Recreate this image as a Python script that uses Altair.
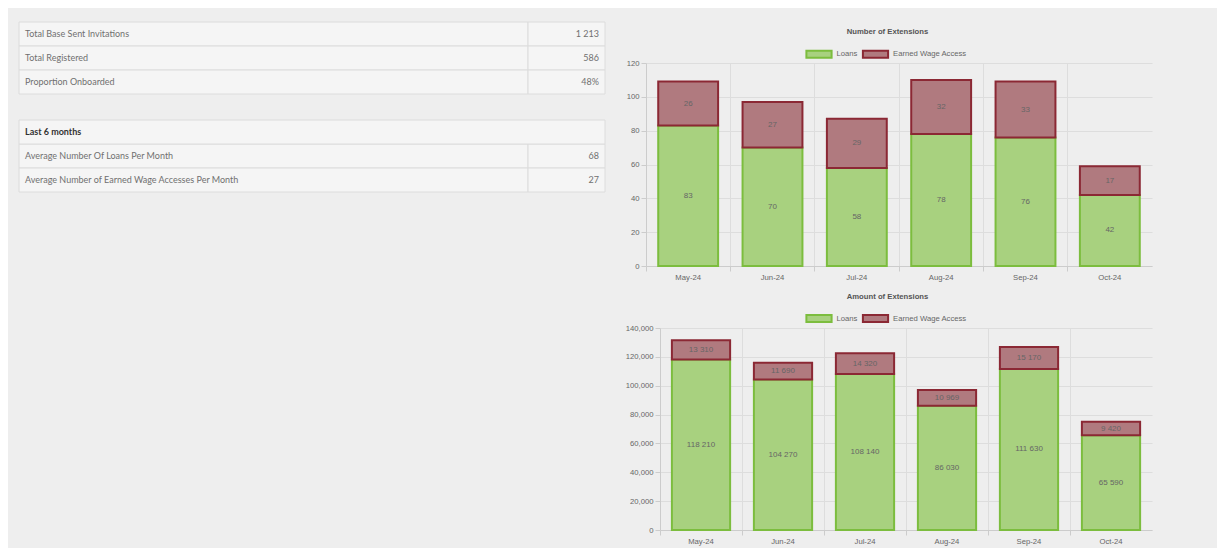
import altair as alt
import pandas as pd

# ---------------- data ----------------
months = ["May-24", "Jun-24", "Jul-24", "Aug-24", "Sep-24", "Oct-24"]
series_names = ["Loans", "Earned Wage Access"]

loans_count = [83, 70, 58, 78, 76, 42]
ewa_count = [26, 27, 29, 32, 33, 17]

loans_amount = [118210, 104270, 108140, 86030, 111630, 65590]
ewa_amount = [13310, 11690, 14320, 10969, 15170, 9420]

count_ticks = [0, 20, 40, 60, 80, 100, 120]
amount_ticks = [0, 20000, 40000, 60000, 80000, 100000, 120000, 140000]

t1_labels = ["Total Base Sent Invitations", "Total Registered", "Proportion Onboarded"]
t1_values = ["1 213", "586", "48%"]

t2_header = "Last 6 months"
t2_labels = ["Average Number Of Loans Per Month",
             "Average Number of Earned Wage Accesses Per Month"]
t2_values = ["68", "27"]

# ---------------- styles ----------------
fill_colors = ["#a8d17f", "#b07a7f"]
stroke_colors = ["#7cbd3e", "#8b2834"]
BG = "#eeeeee"
CELL = "#f5f5f5"
BORDER = "#dcdcdc"
CFONT = "Liberation Sans"
TFONT = "Lato"
FS = 7.7
TFS = 9
PLOT_W = 492


def long_df(loans, ewa):
    rows = []
    for i, m in enumerate(months):
        for j, (s, v) in enumerate(zip(series_names, [loans[i], ewa[i]])):
            rows.append({"month": m, "series": s, "value": v, "order": j,
                         "label": f"{v:,}".replace(",", " ")})
    return pd.DataFrame(rows)


def bar_chart(df, title, y_ticks, y_fmt, height, left_ext, legend_x, legend_y):
    base = alt.Chart(df).transform_stack(
        stack="value", groupby=["month"], as_=["v0", "v1"],
        sort=[alt.SortField("order", order="ascending")]
    ).transform_calculate(mid="(datum.v0 + datum.v1) / 2")

    x = alt.X("month:N", sort=months,
              scale=alt.Scale(paddingInner=0, paddingOuter=0, range=[-left_ext, PLOT_W]),
              axis=alt.Axis(title=None, labelAngle=0, bandPosition=0,
                            grid=True, tickSize=5, labelPadding=2))
    yscale = alt.Scale(domain=[0, y_ticks[-1]], nice=False)
    yaxis = alt.Axis(title=None, values=y_ticks, format=y_fmt, tickSize=5,
                     labelPadding=2, grid=True, offset=left_ext)
    legend = alt.Legend(orient="none", legendX=legend_x, legendY=legend_y,
                        direction="horizontal", title=None,
                        symbolType="M-1.8,-0.5H1.8V0.5H-1.8Z", symbolSize=196,
                        symbolStrokeWidth=2, symbolOpacity=1,
                        labelFont=CFONT, labelFontSize=FS, labelColor="#666666",
                        labelOffset=9.5, columnPadding=0.5, padding=0)
    bars = base.mark_bar(width=alt.RelativeBandSize(0.71), strokeWidth=2).encode(
        x=x,
        y=alt.Y("v0:Q", scale=yscale, axis=yaxis),
        y2="v1:Q",
        fill=alt.Fill("series:N", scale=alt.Scale(domain=series_names, range=fill_colors),
                      legend=legend),
        stroke=alt.Stroke("series:N", scale=alt.Scale(domain=series_names, range=stroke_colors),
                          legend=legend),
    )
    text = base.mark_text(font=CFONT, fontSize=8, color="#666666").encode(
        x=x,
        y=alt.Y("mid:Q", scale=yscale, axis=yaxis),
        text="label:N",
    )
    return alt.layer(bars, text).properties(
        width=PLOT_W, height=height,
        title=alt.TitleParams(title, font=CFONT, fontSize=FS, fontWeight="bold",
                              color="#555555", anchor="middle", offset=10, dx=-18.5),
    )


def table(labels, values, header=None):
    rows = []
    r = 0
    if header is not None:
        rows.append({"row": r, "kind": "header", "label": header, "value": ""})
        r += 1
    for lab, val in zip(labels, values):
        rows.append({"row": r, "kind": "body", "label": lab, "value": val})
        r += 1
    df = pd.DataFrame(rows)
    base = alt.Chart(df).encode(
        y=alt.Y("row:O", axis=None, scale=alt.Scale(paddingInner=0, paddingOuter=0))
    )
    body = base.transform_filter("datum.kind == 'body'")
    rects = [
        body.mark_rect(fill=CELL, stroke=BORDER, strokeWidth=1).encode(
            x=alt.value(0), x2=alt.value(509)),
        body.mark_rect(fill=CELL, stroke=BORDER, strokeWidth=1).encode(
            x=alt.value(509), x2=alt.value(586)),
    ]
    texts = [
        body.mark_text(align="left", font=TFONT, fontSize=TFS, color="#707070").encode(
            x=alt.value(6), text="label:N"),
        body.mark_text(align="right", font=TFONT, fontSize=TFS, color="#707070").encode(
            x=alt.value(580), text="value:N"),
    ]
    if header is not None:
        head = base.transform_filter("datum.kind == 'header'")
        rects.append(head.mark_rect(fill=CELL, stroke=BORDER, strokeWidth=1).encode(
            x=alt.value(0), x2=alt.value(586)))
        texts.append(head.mark_text(align="left", font=TFONT, fontSize=TFS,
                                    fontWeight="bold", color="#333333").encode(
            x=alt.value(6), text="label:N"))
    return alt.layer(*rects, *texts).properties(width=586, height=24 * len(rows))


IND = dict(fill="independent", stroke="independent")

table1 = table(t1_labels, t1_values)
table2 = table(t2_labels, t2_values, header=t2_header)
left = alt.vconcat(table1, table2, spacing=24)

chart1 = bar_chart(long_df(loans_count, ewa_count), "Number of Extensions",
                   count_ticks, "d", 203, 14, 151, -17)
chart2 = bar_chart(long_df(loans_amount, ewa_amount), "Amount of Extensions",
                   amount_ticks, ",d", 202, 0, 151, -17.7)

spacer = alt.Chart(pd.DataFrame({"a": [0]})).mark_rule(opacity=0).encode(
    x=alt.value(0), y=alt.value(0), y2=alt.value(4)
).properties(width=1, height=4)

right = alt.vconcat(
    spacer,
    alt.vconcat(chart1, chart2, spacing=10).resolve_scale(**IND),
    spacing=0,
).resolve_scale(**IND)

chart = alt.hconcat(left, right, spacing=18).resolve_scale(**IND).properties(
    padding={"left": 10, "top": 13, "right": 50, "bottom": 2},
    background=BG,
).configure_view(stroke="transparent").configure_axis(
    labelFont=CFONT, labelFontSize=FS, labelColor="#666666",
    domainColor="#cccccc", tickColor="#cccccc", gridColor="#dddddd",
)

chart.save("out.html", embed_options={"renderer": "svg", "actions": False})
